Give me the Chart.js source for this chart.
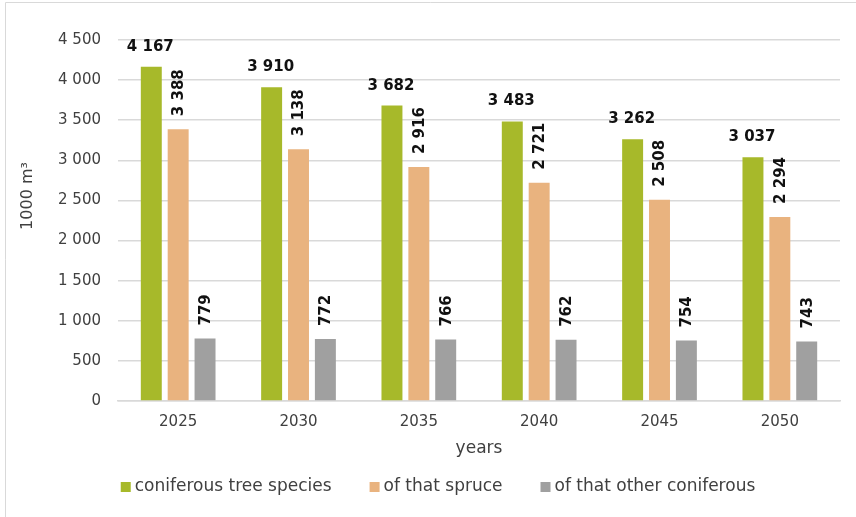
<!DOCTYPE html>
<html>
<head>
<meta charset="utf-8">
<script src="https://cdn.jsdelivr.net/npm/chart.js@4"></script>
<style>
html,body{margin:0;padding:0;background:#fff;}
#wrap{position:relative;width:856px;height:517px;}
</style>
</head>
<body>
<div id="wrap"><canvas id="c" width="856" height="517"></canvas></div>
<script>
const categories = ['2025', '2030', '2035', '2040', '2045', '2050'];
const coniferous = [4167, 3910, 3682, 3483, 3262, 3037];
const spruce = [3388, 3138, 2916, 2721, 2508, 2294];
const otherConiferous = [779, 772, 766, 762, 754, 743];
const seriesNames = ['coniferous tree species', 'of that spruce', 'of that other coniferous'];
const yTicks = [0, 500, 1000, 1500, 2000, 2500, 3000, 3500, 4000, 4500];
const yTitle = '1000 m³';
const xTitle = 'years';

const FONT = '"DejaVu Sans", sans-serif';
const colors = ['#A7B92A', '#E9B37F', '#A0A0A0'];

function fmt(v) {
  return String(v).replace(/\B(?=(\d{3})+(?!\d))/g, ' ');
}

const labelPlugin = {
  id: 'barLabels',
  afterDatasetsDraw(chart) {
    const ctx = chart.ctx;
    ctx.save();
    ctx.fillStyle = '#111';
    ctx.font = 'bold 15px ' + FONT;
    chart.data.datasets.forEach((ds, di) => {
      const meta = chart.getDatasetMeta(di);
      meta.data.forEach((bar, i) => {
        const txt = fmt(ds.data[i]);
        if (di === 0) {
          ctx.textAlign = 'center';
          ctx.textBaseline = 'middle';
          ctx.fillText(txt, bar.x - 1, bar.y - 20);
        } else {
          ctx.save();
          ctx.translate(bar.x + 1, bar.y - 13);
          ctx.rotate(-Math.PI / 2);
          ctx.textAlign = 'left';
          ctx.textBaseline = 'middle';
          ctx.fillText(txt, 0, 0);
          ctx.restore();
        }
      });
    });
    ctx.restore();
  }
};

const yTitlePlugin = {
  id: 'yTitle',
  afterDraw(chart) {
    const ctx = chart.ctx;
    ctx.save();
    ctx.font = '16px ' + FONT;
    ctx.fillStyle = '#404040';
    ctx.textAlign = 'center';
    ctx.textBaseline = 'middle';
    ctx.translate(28, 196);
    ctx.rotate(-Math.PI / 2);
    ctx.fillText(yTitle, 0, 0);
    ctx.restore();
  }
};

const legendPlugin = {
  id: 'customLegend',
  afterDraw(chart) {
    const ctx = chart.ctx;
    ctx.save();
    ctx.font = '17px ' + FONT;
    ctx.textBaseline = 'middle';
    ctx.textAlign = 'left';
    const y = 487;
    const box = 10, gapBox = 4, gapItem = 38;
    let total = 0;
    chart.data.datasets.forEach((ds, i) => {
      total += box + gapBox + ctx.measureText(ds.label).width;
      if (i > 0) total += gapItem;
    });
    let x = 438 - total / 2;
    chart.data.datasets.forEach((ds) => {
      ctx.fillStyle = ds.backgroundColor;
      ctx.fillRect(x, y - box / 2, box, box);
      x += box + gapBox;
      ctx.fillStyle = '#404040';
      ctx.fillText(ds.label, x, y);
      x += ctx.measureText(ds.label).width + gapItem;
    });
    ctx.restore();
  }
};

const framePlugin = {
  id: 'frame',
  afterDraw(chart) {
    const ctx = chart.ctx;
    ctx.save();
    ctx.strokeStyle = '#d9d9d9';
    ctx.lineWidth = 1;
    ctx.beginPath();
    ctx.moveTo(5.5, 517);
    ctx.lineTo(5.5, 2.5);
    ctx.lineTo(856, 2.5);
    ctx.stroke();
    ctx.restore();
  }
};

new Chart(document.getElementById('c'), {
  type: 'bar',
  data: {
    labels: categories,
    datasets: [
      { label: seriesNames[0], data: coniferous, backgroundColor: colors[0] },
      { label: seriesNames[1], data: spruce, backgroundColor: colors[1] },
      { label: seriesNames[2], data: otherConiferous, backgroundColor: colors[2] }
    ]
  },
  options: {
    responsive: false,
    animation: false,
    devicePixelRatio: 1,
    datasets: { bar: { categoryPercentage: 0.67, barPercentage: 0.78 } },
    layout: { padding: { left: 5, right: 16, top: 40, bottom: 58 } },
    plugins: {
      legend: { display: false },
      tooltip: { enabled: false }
    },
    scales: {
      x: {
        grid: { display: false, drawTicks: false },
        border: { color: '#d9d9d9', width: 1.5 },
        ticks: { color: '#404040', font: { family: FONT, size: 15 }, padding: 12 },
        title: { display: true, text: xTitle, color: '#404040', font: { family: FONT, size: 17 }, padding: 0 },
        afterFit(scale) { scale.height = 58; }
      },
      y: {
        min: 0,
        max: 4500,
        afterBuildTicks(scale) { scale.ticks = yTicks.map(v => ({ value: v })); },
        grid: { color: '#d9d9d9', lineWidth: 1.5, drawTicks: false },
        border: { display: false },
        ticks: {
          color: '#404040',
          font: { family: FONT, size: 15 },
          padding: 17,
          callback: (v) => fmt(v)
        },
        title: { display: false },
        afterFit(scale) { scale.width = 113; }
      }
    }
  },
  plugins: [labelPlugin, yTitlePlugin, legendPlugin, framePlugin]
});
</script>
</body>
</html>
